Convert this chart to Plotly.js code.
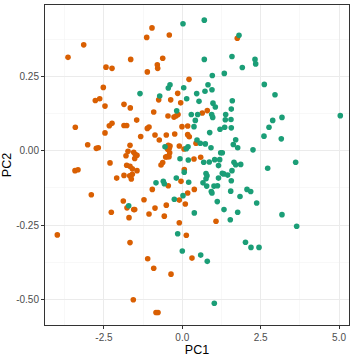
<!DOCTYPE html>
<html>
<head>
<meta charset="utf-8">
<script src="https://cdn.plot.ly/plotly-3.0.1.min.js"></script>
<style>html,body{margin:0;padding:0;background:#fff}#chart{width:360px;height:360px}</style>
</head>
<body>
<div id="chart"></div>
<script>
// Group A (orange)
const orangePC1 = [-3.145,-3.646,-1.136,-2.434,-2.242,-1.646,-1.116,-2.520,-2.775,-2.635,-2.466,-1.860,-1.659,-0.967,-0.415,1.754,-0.625,-0.797,-0.785,0.214,-0.147,-0.753,-0.370,-0.051,-0.912,-0.456,-0.265,-0.201,-0.137,0.638,0.797,-3.413,-2.329,-2.242,-2.466,-1.860,-1.774,-1.455,-1.327,-1.116,-1.062,-3.018,-2.743,-2.679,-1.668,-1.732,-1.796,-1.550,-1.499,-1.445,-1.518,-2.306,-1.774,-1.668,-1.595,-1.445,-3.423,-3.327,-1.860,-1.678,-1.595,-1.627,-2.093,-2.903,-1.882,-1.222,-1.764,-1.550,-1.518,-2.265,-1.700,-1.062,-3.987,-1.668,-1.104,-1.563,-0.574,-0.096,1.075,0.128,0.309,-0.912,-0.360,-0.839,-0.775,-0.010,0.172,-0.871,-0.734,-0.510,-0.242,0.172,0.223,0.437,-0.447,-0.392,-0.415,-0.466,-0.096,0.054,-0.402,-0.488,-0.424,-0.530,-0.625,-0.679,0.373,0.587,0.064,-0.447,-0.957,-0.041,0.383,0.172,-0.096,0.096,-0.510,-0.871];
const orangePC2 = [0.356,0.314,0.381,0.281,0.277,0.307,0.265,0.213,0.169,0.175,0.150,0.156,0.144,0.413,0.389,0.378,0.311,0.289,0.277,0.240,0.193,0.171,0.171,0.161,0.130,0.117,0.113,0.117,0.122,0.127,0.135,0.079,0.084,0.092,0.060,0.085,0.085,0.103,0.048,0.075,0.080,0.020,0.008,0.010,0.018,-0.002,-0.017,-0.005,-0.013,-0.015,-0.026,-0.041,-0.049,-0.052,-0.061,-0.067,-0.067,-0.064,-0.083,-0.084,-0.079,-0.095,-0.092,-0.148,-0.169,-0.165,-0.192,-0.198,-0.198,-0.207,-0.225,-0.213,-0.283,-0.309,-0.363,-0.501,-0.220,-0.242,-0.237,-0.284,-0.361,-0.395,-0.415,-0.544,-0.544,0.081,0.083,0.053,0.036,0.053,0.056,0.054,0.047,0.025,0.018,0.016,0.008,0.005,0.016,0.006,-0.007,-0.020,-0.020,-0.021,-0.040,-0.048,-0.028,-0.022,-0.063,-0.118,-0.130,-0.103,-0.130,-0.142,-0.166,-0.179,-0.183,-0.193];
// Group B (green)
const greenPC1 = [-1.349,0.702,0.022,1.809,0.702,1.585,1.914,0.957,1.340,-0.392,-0.447,0.045,0.820,0.724,0.947,0.459,-0.721,0.140,0.533,0.979,1.053,1.595,1.563,-0.179,0.287,0.491,0.938,0.970,1.384,1.372,1.553,0.415,0.373,0.874,1.203,1.352,1.563,1.703,1.627,1.767,0.469,0.574,0.734,0.182,0.128,-0.552,0.915,1.225,1.276,-0.073,0.191,0.683,0.861,1.033,1.193,1.155,1.649,1.703,1.863,1.585,1.276,1.321,1.448,0.756,0.788,0.756,1.155,1.563,-0.191,-0.606,-0.574,-0.839,0.204,0.660,0.778,1.011,1.123,0.925,0.947,1.544,2.064,2.182,1.841,0.022,-0.255,1.116,1.330,1.767,0.383,1.531,2.319,2.341,2.616,2.957,5.040,2.884,3.180,2.766,2.606,3.158,2.255,3.617,2.724,2.373,3.180,3.649,2.016,2.191,2.447,-0.147,0.000,0.587,0.797,1.021,-1.710,0.061];
const greenPC2 = [0.192,0.439,0.427,0.388,0.307,0.317,0.280,0.253,0.260,0.222,0.211,0.212,0.222,0.200,0.205,0.192,0.184,0.175,0.166,0.160,0.147,0.168,0.140,0.134,0.122,0.122,0.122,0.112,0.122,0.104,0.105,0.102,0.081,0.061,0.072,0.079,0.077,0.037,0.021,0.010,0.036,0.025,0.023,0.013,0.007,0.013,0.010,-0.007,-0.007,-0.027,-0.031,-0.039,-0.038,-0.030,-0.030,-0.050,-0.039,-0.047,-0.046,-0.067,-0.076,-0.078,-0.082,-0.077,-0.084,-0.094,-0.092,-0.101,-0.092,-0.103,-0.111,-0.108,-0.106,-0.108,-0.119,-0.119,-0.118,-0.137,-0.142,-0.136,-0.130,-0.137,-0.154,-0.151,-0.163,-0.171,-0.198,-0.207,-0.209,-0.232,0.307,0.292,0.223,0.188,0.118,0.102,0.112,0.079,0.049,0.040,0.003,-0.039,-0.059,-0.176,-0.215,-0.254,-0.308,-0.325,-0.325,-0.279,-0.337,-0.351,-0.372,-0.513,-0.185,-0.072];

const xTicks = [-2.5, 0, 2.5, 5];
const xTickText = ["-2.5", "0.0", "2.5", "5.0"];
const yTicks = [-0.5, -0.25, 0, 0.25];
const yTickText = ["-0.50", "-0.25", "0.00", "0.25"];

const font = "Liberation Sans, Arial, sans-serif";
const marker = (c) => ({color: c, size: 5.6, line: {width: 0}});

const data = [
  {x: orangePC1, y: orangePC2, type: 'scatter', mode: 'markers', marker: marker('#D95F02'), hoverinfo: 'skip'},
  {x: greenPC1, y: greenPC2, type: 'scatter', mode: 'markers', marker: marker('#1B9E77'), hoverinfo: 'skip'}
];

const axisCommon = {
  showgrid: true, gridcolor: '#EBEBEB', gridwidth: 1,
  zeroline: false,
  showline: true, mirror: true, linecolor: '#333333', linewidth: 1,
  ticks: 'outside', ticklen: 3, tickcolor: '#333333', tickwidth: 1,
  tickfont: {family: font, size: 10, color: '#4D4D4D'},
  tickmode: 'array'
};

const layout = {
  width: 360, height: 360,
  margin: {l: 45, r: 11, t: 5, b: 35},
  paper_bgcolor: '#FFFFFF', plot_bgcolor: '#FFFFFF',
  showlegend: false,
  font: {family: font},
  xaxis: Object.assign({}, axisCommon, {
    range: [-4.38, 5.318],
    tickvals: xTicks, ticktext: xTickText,
    minor: {tickmode: 'array', tickvals: [-3.75, -1.25, 1.25, 3.75], showgrid: true, gridcolor: '#F3F3F3', gridwidth: 0.6, ticks: ''},
    title: {text: 'PC1', font: {family: font, size: 12.5, color: '#000000'}, standoff: 3}
  }),
  yaxis: Object.assign({}, axisCommon, {
    range: [-0.586, 0.490],
    tickvals: yTicks, ticktext: yTickText,
    minor: {tickmode: 'array', tickvals: [-0.375, -0.125, 0.125, 0.375], showgrid: true, gridcolor: '#F3F3F3', gridwidth: 0.6, ticks: ''},
    title: {text: 'PC2', font: {family: font, size: 12.5, color: '#000000'}, standoff: 5}
  })
};

Plotly.newPlot('chart', data, layout, {staticPlot: true, displayModeBar: false});
</script>
</body>
</html>
